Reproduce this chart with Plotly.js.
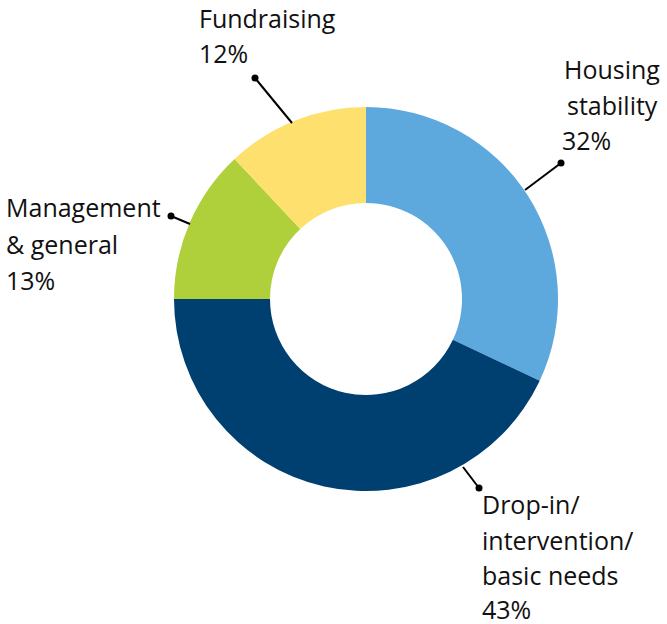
<!DOCTYPE html>
<html>
<head>
<meta charset="utf-8">
<script src="https://cdn.plot.ly/plotly-3.0.1.min.js"></script>
<style>html,body{margin:0;padding:0;background:#fff;}#chart{width:667px;height:624px;}</style>
</head>
<body>
<div id="chart"></div>
<script>
// Data
var categories = ["Housing stability", "Drop-in/ intervention/ basic needs", "Management & general", "Fundraising"];
var values = [32, 43, 13, 12];
var colors = ["#5DA8DD", "#004070", "#AFD03A", "#FEE06F"];
var labelLines = [
  ["Housing", "stability", "32%"],
  ["Drop-in/", "intervention/", "basic needs", "43%"],
  ["Management", "& general", "13%"],
  ["Fundraising", "12%"]
];

// Layout (pixel positions of labels / leader lines)
var W = 667, H = 624;
var cx = 366, cy = 299, R = 192;
var labelLeft = [[565, 568, 563], [483, 483, 483, 483], [7, 7, 7], [200, 200]];
var labelBase = [[79, 115, 150], [514, 550, 585, 619], [217, 254, 290], [28, 63]];
var leaderFrom = [[525, 190], [463, 467], [190, 224], [292, 123]];
var leaderDot = [[561, 163], [479, 488], [171, 216], [255, 78]];

var fontFam = "Open Sans, sans-serif";
var fs = 25;

var trace = {
  type: "pie",
  labels: categories,
  values: values,
  sort: false,
  direction: "clockwise",
  rotation: 0,
  hole: 0.5,
  textinfo: "none",
  hoverinfo: "label+percent",
  marker: {colors: colors, line: {width: 0}},
  domain: {x: [(cx - R) / W, (cx + R) / W], y: [1 - (cy + R) / H, 1 - (cy - R) / H]},
  showlegend: false
};

var annotations = [];
var shapes = [];
for (var i = 0; i < labelLines.length; i++) {
  for (var j = 0; j < labelLines[i].length; j++) {
    annotations.push({
      xref: "x", yref: "y",
      x: labelLeft[i][j] - 3, y: labelBase[i][j] - 10,
      xanchor: "left", yanchor: "middle",
      text: labelLines[i][j].replace(/&/g, "&amp;"),
      showarrow: false,
      font: {family: fontFam, size: fs, color: "#111"}
    });
  }
  shapes.push({
    type: "line", xref: "x", yref: "y",
    x0: leaderFrom[i][0], y0: leaderFrom[i][1],
    x1: leaderDot[i][0], y1: leaderDot[i][1],
    line: {color: "#000", width: 2}
  });
  shapes.push({
    type: "circle", xref: "x", yref: "y",
    x0: leaderDot[i][0] - 3.5, x1: leaderDot[i][0] + 3.5,
    y0: leaderDot[i][1] - 3.5, y1: leaderDot[i][1] + 3.5,
    fillcolor: "#000", line: {width: 0}
  });
}

var layout = {
  width: W, height: H,
  margin: {l: 0, r: 0, t: 0, b: 0},
  paper_bgcolor: "#fff",
  plot_bgcolor: "rgba(0,0,0,0)",
  xaxis: {range: [0, W], visible: false, fixedrange: true, domain: [0, 1]},
  yaxis: {range: [H, 0], visible: false, fixedrange: true, domain: [0, 1]},
  annotations: annotations,
  shapes: shapes,
  showlegend: false
};

Plotly.newPlot("chart", [trace], layout, {displayModeBar: false, staticPlot: true});
</script>
</body>
</html>
